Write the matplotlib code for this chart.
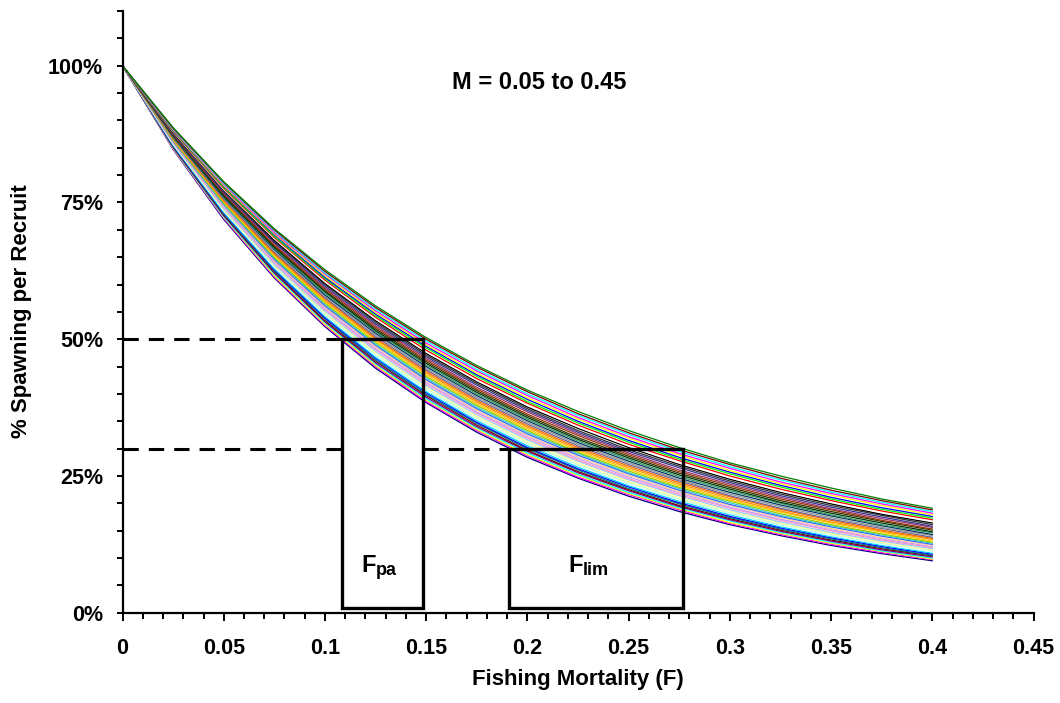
import numpy as np
import matplotlib
matplotlib.use("Agg")
import matplotlib.pyplot as plt
from matplotlib.patches import Rectangle
from matplotlib.ticker import MultipleLocator, FixedLocator, FuncFormatter

plt.rcParams['font.family'] = 'Liberation Sans'
plt.rcParams['font.weight'] = 'bold'

# fishing mortality grid and %SPR curves (per mille of unfished), one curve per M value
f_values = [0, 0.025, 0.05, 0.075, 0.1, 0.125, 0.15, 0.175, 0.2, 0.225, 0.25, 0.275, 0.3, 0.325, 0.35, 0.375, 0.4]
spr_permille = [
    [1000, 847, 719, 612, 523, 447, 384, 330, 284, 246, 213, 185, 161, 141, 123, 108, 95],
    [1000, 848, 721, 614, 525, 450, 386, 333, 287, 248, 216, 188, 163, 143, 125, 110, 97],
    [1000, 849, 723, 616, 527, 452, 389, 335, 289, 251, 218, 190, 165, 145, 127, 112, 98],
    [1000, 850, 724, 619, 530, 455, 391, 338, 292, 253, 220, 192, 168, 147, 129, 113, 100],
    [1000, 851, 726, 621, 532, 457, 394, 340, 295, 256, 223, 194, 170, 149, 131, 115, 102],
    [1000, 852, 727, 623, 534, 460, 397, 343, 297, 258, 225, 196, 172, 151, 133, 117, 104],
    [1000, 853, 729, 625, 537, 462, 399, 346, 300, 261, 227, 199, 174, 153, 135, 119, 105],
    [1000, 854, 731, 627, 539, 465, 402, 348, 302, 263, 230, 201, 176, 155, 137, 121, 107],
    [1000, 855, 732, 629, 542, 467, 404, 351, 305, 266, 232, 204, 179, 157, 139, 123, 109],
    [1000, 856, 734, 631, 544, 470, 407, 354, 308, 269, 235, 206, 181, 160, 141, 125, 111],
    [1000, 857, 736, 633, 546, 473, 410, 356, 310, 271, 238, 208, 183, 162, 143, 127, 113],
    [1000, 858, 737, 635, 549, 475, 413, 359, 313, 274, 240, 211, 186, 164, 145, 129, 115],
    [1000, 859, 739, 637, 551, 478, 415, 362, 316, 277, 243, 214, 188, 166, 147, 131, 117],
    [1000, 859, 741, 640, 554, 481, 418, 365, 319, 279, 245, 216, 191, 169, 150, 133, 119],
    [1000, 860, 742, 642, 556, 483, 421, 367, 322, 282, 248, 219, 193, 171, 152, 135, 121],
    [1000, 861, 744, 644, 559, 486, 424, 370, 324, 285, 251, 221, 196, 174, 154, 137, 123],
    [1000, 862, 746, 646, 561, 489, 426, 373, 327, 288, 254, 224, 198, 176, 157, 140, 125],
    [1000, 863, 747, 648, 564, 491, 429, 376, 330, 291, 256, 227, 201, 178, 159, 142, 127],
    [1000, 864, 749, 650, 566, 494, 432, 379, 333, 293, 259, 229, 204, 181, 161, 144, 129],
    [1000, 865, 751, 653, 569, 497, 435, 382, 336, 296, 262, 232, 206, 184, 164, 147, 131],
    [1000, 866, 752, 655, 571, 500, 438, 385, 339, 299, 265, 235, 209, 186, 166, 149, 134],
    [1000, 867, 754, 657, 574, 502, 441, 388, 342, 302, 268, 238, 212, 189, 169, 151, 136],
    [1000, 868, 756, 659, 576, 505, 444, 391, 345, 305, 271, 241, 214, 191, 171, 154, 138],
    [1000, 869, 757, 661, 579, 508, 447, 394, 348, 308, 274, 243, 217, 194, 174, 156, 141],
    [1000, 870, 759, 664, 581, 511, 450, 397, 351, 311, 277, 246, 220, 197, 177, 159, 143],
    [1000, 871, 761, 666, 584, 514, 453, 400, 354, 314, 280, 249, 223, 200, 179, 161, 146],
    [1000, 872, 762, 668, 587, 516, 456, 403, 357, 317, 283, 252, 226, 202, 182, 164, 148],
    [1000, 873, 764, 670, 589, 519, 459, 406, 360, 320, 286, 255, 229, 205, 185, 167, 151],
    [1000, 874, 766, 672, 592, 522, 462, 409, 363, 324, 289, 258, 232, 208, 188, 169, 153],
    [1000, 875, 767, 675, 594, 525, 465, 412, 367, 327, 292, 261, 235, 211, 190, 172, 156],
    [1000, 876, 769, 677, 597, 528, 468, 416, 370, 330, 295, 265, 238, 214, 193, 175, 158],
    [1000, 877, 771, 679, 600, 531, 471, 419, 373, 333, 298, 268, 241, 217, 196, 178, 161],
    [1000, 878, 773, 681, 602, 534, 474, 422, 376, 337, 302, 271, 244, 220, 199, 180, 164],
    [1000, 879, 774, 684, 605, 537, 477, 425, 380, 340, 305, 274, 247, 223, 202, 183, 167],
    [1000, 880, 776, 686, 608, 540, 480, 428, 383, 343, 308, 278, 250, 226, 205, 186, 170],
    [1000, 881, 778, 688, 611, 543, 484, 432, 386, 347, 312, 281, 254, 230, 208, 189, 173],
    [1000, 882, 780, 691, 613, 546, 487, 435, 390, 350, 315, 284, 257, 233, 211, 192, 176],
    [1000, 883, 781, 693, 616, 549, 490, 438, 393, 354, 319, 288, 260, 236, 215, 196, 179],
    [1000, 884, 783, 695, 619, 552, 493, 442, 397, 357, 322, 291, 264, 239, 218, 199, 182],
    [1000, 885, 785, 698, 621, 555, 497, 445, 400, 361, 326, 295, 267, 243, 221, 202, 185],
    [1000, 886, 787, 700, 624, 558, 500, 449, 404, 364, 329, 298, 271, 246, 224, 205, 188],
    [1000, 887, 788, 702, 627, 561, 503, 452, 407, 368, 333, 302, 274, 250, 228, 208, 191],
]

# old Excel default series colours
line_colors = ['#000080', '#FF00FF', '#FFFF00', '#00FFFF', '#800080', '#800000', '#008080', '#0000FF',
               '#00CCFF', '#CCFFFF', '#CCFFCC', '#FFFF99', '#99CCFF', '#FF99CC', '#CC99FF', '#FFCC99',
               '#3366FF', '#33CCCC', '#99CC00', '#FFCC00', '#FF9900', '#FF6600', '#666699', '#969696',
               '#003366', '#339966', '#003300', '#333300', '#993300', '#993366', '#333399', '#333333',
               '#000000', '#FFFFFF', '#FF0000', '#00FF00', '#0000FF', '#FFFF00', '#FF00FF', '#00FFFF',
               '#800000', '#008000']

fpa = (0.1085, 0.1485)
flim = (0.191, 0.277)
box_bottom = 0.8
fpa_top = 50
flim_top = 30

fig = plt.figure(figsize=(10.6, 7.03), dpi=100)
ax = fig.add_axes([0.1156, 0.1284, 0.8594, 0.8559])

for vals, col in zip(spr_permille, line_colors):
    ax.plot(f_values, np.array(vals) / 10.0, color=col, lw=0.9, zorder=2)

dash_kw = dict(color='black', lw=2.2, dashes=(5, 3.3), zorder=3)
ax.plot([0, fpa[0]], [fpa_top, fpa_top], **dash_kw)
ax.plot([0, fpa[0]], [flim_top, flim_top], **dash_kw)
ax.plot([fpa[1], flim[0]], [flim_top, flim_top], **dash_kw)

for (x0, x1), top in [(fpa, fpa_top), (flim, flim_top)]:
    ax.add_patch(Rectangle((x0, box_bottom), x1 - x0, top - box_bottom, fill=False,
                           ec='black', lw=2.4, joinstyle='miter', zorder=4))

# F with subscript, drawn as two texts so the subscript size matches
ax.text(0.1182, 7.5, 'F', fontsize=17, ha='left', va='baseline')
ax.text(0.1252, 6.9, 'pa', fontsize=13, ha='left', va='baseline')
ax.text(0.2202, 7.5, 'F', fontsize=17, ha='left', va='baseline')
ax.text(0.2273, 6.9, 'lim', fontsize=13, ha='left', va='baseline')
ax.text(0.2057, 97, 'M = 0.05 to 0.45', fontsize=17, ha='center', va='center')

ax.set_xlim(0, 0.45)
ax.set_ylim(0, 110)
for s in ['top', 'right']:
    ax.spines[s].set_visible(False)
for s in ['left', 'bottom']:
    ax.spines[s].set_linewidth(1.6)

ax.xaxis.set_major_locator(MultipleLocator(0.05))
ax.xaxis.set_minor_locator(MultipleLocator(0.01))
ax.xaxis.set_major_formatter(FuncFormatter(lambda v, p: ('%.2f' % v).rstrip('0').rstrip('.')))
ax.yaxis.set_major_locator(FixedLocator([0, 25, 50, 75, 100]))
ax.yaxis.set_minor_locator(MultipleLocator(5))
ax.yaxis.set_major_formatter(FuncFormatter(lambda v, p: '%d%%' % v))
ax.tick_params(which='both', direction='out', width=1.4, labelsize=15.5)
ax.tick_params(axis='x', which='major', length=6, pad=12)
ax.tick_params(axis='x', which='minor', length=4)
ax.tick_params(axis='y', which='major', length=4, pad=10)
ax.tick_params(axis='y', which='minor', length=4)

fig.text(578 / 1060, 1 - 680 / 703, 'Fishing Mortality (F)', fontsize=16, ha='center', va='center')
fig.text(22 / 1060, 1 - 311 / 703, '% Spawning per Recruit', fontsize=16, ha='center', va='center',
         rotation=90)

fig.savefig("out.png", dpi=100)
plt.close(fig)
